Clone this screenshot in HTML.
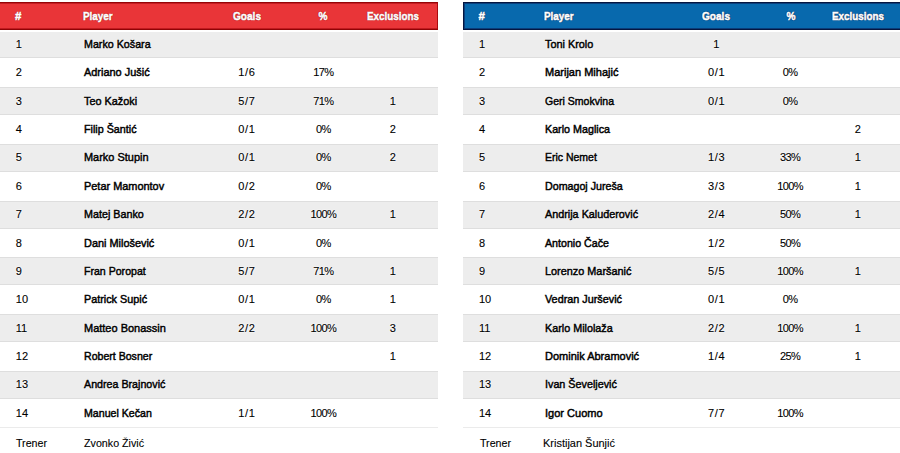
<!DOCTYPE html>
<html><head><meta charset="utf-8"><style>
*{margin:0;padding:0;box-sizing:border-box}
html,body{width:900px;height:453px;overflow:hidden;background:#fff}
body{font-family:"Liberation Sans",sans-serif;color:#000;position:relative}
.t{position:absolute;top:0;height:453px}
.s{position:absolute;left:0;right:0;background:#ededed}
.ln{position:absolute;left:0;right:0;height:1px;background:#dedede}
.ln.l2{background:#ebebeb}
.hd{position:absolute;left:0;right:0;top:2px;height:28px}
.red{background:#e93538;border-top:1px solid #960406;border-bottom:1px solid #8f0305;border-right:1px solid #a80a0e;box-shadow:inset 0 1px 0 #c41d22,inset 0 -1px 0 #c01a1f}
.blue{right:-3px;background:#0869ad;border:1px solid #051640;border-right:0;box-shadow:inset 0 1px 0 #0a3f7c,inset 0 -1px 0 #0a3c78,inset 1px 0 0 #0a3f7c}
.red .h{text-shadow:0 0 1px #8a0005,0 0 1px #8a0005,0 0 1px #8a0005}
.blue .h{text-shadow:0 0 1px #001445,0 0 1px #001445,0 0 1px #001445}
.h{position:absolute;top:0;line-height:26px;font-weight:bold;font-size:11.5px;color:#fff;white-space:nowrap;-webkit-text-stroke:.5px #fff;transform-origin:0 50%;transform:scaleX(.86)}
.h.c{transform-origin:50% 50%;transform:translateX(-50%) scaleX(.88)}
.h.c.ex{transform:translateX(-50%) scaleX(.855)}
.c{transform:translateX(-50%)}
.r{position:absolute;left:0;right:0;height:28px}
.r span{position:absolute;top:0;line-height:29px;white-space:nowrap;text-shadow:0 0 2px #fff,0 0 2px #fff}
.n{font-size:11px;-webkit-text-stroke:.1px #000}
.nm{font-size:11px;-webkit-text-stroke:.45px #000;transform-origin:0 50%;transform:scaleX(.98)}
.co{transform-origin:0 50%;transform:scaleX(.97)}
.gl{letter-spacing:.7px;text-indent:.7px}
.pc{letter-spacing:-.6px}
</style></head>
<body>
<div class="t" style="left:0px;width:438px">
<i class="s" style="top:32px;height:25px"></i>
<i class="ln" style="top:57px"></i>
<i class="ln" style="top:87px"></i>
<i class="s" style="top:88px;height:26px"></i>
<i class="ln" style="top:114px"></i>
<i class="ln" style="top:144px"></i>
<i class="s" style="top:145px;height:26px"></i>
<i class="ln" style="top:171px"></i>
<i class="ln" style="top:201px"></i>
<i class="s" style="top:202px;height:26px"></i>
<i class="ln" style="top:228px"></i>
<i class="ln" style="top:257px"></i>
<i class="s" style="top:258px;height:26px"></i>
<i class="ln" style="top:284px"></i>
<i class="ln" style="top:314px"></i>
<i class="s" style="top:315px;height:26px"></i>
<i class="ln" style="top:341px"></i>
<i class="ln" style="top:371px"></i>
<i class="s" style="top:372px;height:26px"></i>
<i class="ln" style="top:398px"></i>
<i class="ln l2" style="top:427px"></i>
<div class="hd red"><span class="h" style="left:15px;transform:none">#</span><span class="h" style="left:83px">Player</span><span class="h c" style="left:246.5px">Goals</span><span class="h c" style="left:323.4px">%</span><span class="h c ex" style="left:393.2px">Exclusions</span></div>
<div class="r" style="top:30.00px"><span class="n" style="left:15.8px">1</span><span class="nm" style="left:83.9px;transform:scaleX(0.9731)">Marko Košara</span></div>
<div class="r" style="top:58.37px"><span class="n" style="left:15.8px">2</span><span class="nm" style="left:83.9px;transform:scaleX(0.9937)">Adriano Jušić</span><span class="n c gl" style="left:246.5px">1/6</span><span class="n c pc" style="left:323.4px">17%</span></div>
<div class="r" style="top:86.74px"><span class="n" style="left:15.8px">3</span><span class="nm" style="left:83.9px;transform:scaleX(0.9878)">Teo Kažoki</span><span class="n c gl" style="left:246.5px">5/7</span><span class="n c pc" style="left:323.4px">71%</span><span class="n c" style="left:392.7px">1</span></div>
<div class="r" style="top:115.11px"><span class="n" style="left:15.8px">4</span><span class="nm" style="left:83.9px;transform:scaleX(0.9761)">Filip Šantić</span><span class="n c gl" style="left:246.5px">0/1</span><span class="n c pc" style="left:323.4px">0%</span><span class="n c" style="left:392.7px">2</span></div>
<div class="r" style="top:143.48px"><span class="n" style="left:15.8px">5</span><span class="nm" style="left:83.9px;transform:scaleX(0.9957)">Marko Stupin</span><span class="n c gl" style="left:246.5px">0/1</span><span class="n c pc" style="left:323.4px">0%</span><span class="n c" style="left:392.7px">2</span></div>
<div class="r" style="top:171.85px"><span class="n" style="left:15.8px">6</span><span class="nm" style="left:83.9px;transform:scaleX(0.9927)">Petar Mamontov</span><span class="n c gl" style="left:246.5px">0/2</span><span class="n c pc" style="left:323.4px">0%</span></div>
<div class="r" style="top:200.22px"><span class="n" style="left:15.8px">7</span><span class="nm" style="left:83.9px;transform:scaleX(0.9780)">Matej Banko</span><span class="n c gl" style="left:246.5px">2/2</span><span class="n c pc" style="left:323.4px">100%</span><span class="n c" style="left:392.7px">1</span></div>
<div class="r" style="top:228.59px"><span class="n" style="left:15.8px">8</span><span class="nm" style="left:83.9px;transform:scaleX(0.9918)">Dani Milošević</span><span class="n c gl" style="left:246.5px">0/1</span><span class="n c pc" style="left:323.4px">0%</span></div>
<div class="r" style="top:256.96px"><span class="n" style="left:15.8px">9</span><span class="nm" style="left:83.9px;transform:scaleX(0.9614)">Fran Poropat</span><span class="n c gl" style="left:246.5px">5/7</span><span class="n c pc" style="left:323.4px">71%</span><span class="n c" style="left:392.7px">1</span></div>
<div class="r" style="top:285.33px"><span class="n" style="left:15.8px">10</span><span class="nm" style="left:83.9px;transform:scaleX(0.9820)">Patrick Supić</span><span class="n c gl" style="left:246.5px">0/1</span><span class="n c pc" style="left:323.4px">0%</span><span class="n c" style="left:392.7px">1</span></div>
<div class="r" style="top:313.70px"><span class="n" style="left:15.8px">11</span><span class="nm" style="left:83.9px;transform:scaleX(0.9986)">Matteo Bonassin</span><span class="n c gl" style="left:246.5px">2/2</span><span class="n c pc" style="left:323.4px">100%</span><span class="n c" style="left:392.7px">3</span></div>
<div class="r" style="top:342.07px"><span class="n" style="left:15.8px">12</span><span class="nm" style="left:83.9px;transform:scaleX(0.9614)">Robert Bosner</span><span class="n c" style="left:392.7px">1</span></div>
<div class="r" style="top:370.44px"><span class="n" style="left:15.8px">13</span><span class="nm" style="left:83.9px;transform:scaleX(0.9712)">Andrea Brajnović</span></div>
<div class="r" style="top:398.81px"><span class="n" style="left:15.8px">14</span><span class="nm" style="left:83.9px;transform:scaleX(0.9643)">Manuel Kečan</span><span class="n c gl" style="left:246.5px">1/1</span><span class="n c pc" style="left:323.4px">100%</span></div>
<div class="r" style="top:429.40px"><span class="n co" style="left:16.0px">Trener</span><span class="n co" style="left:84px;transform:scaleX(0.9729)">Zvonko Živić</span></div>
</div>
<div class="t" style="left:463px;width:437px">
<i class="s" style="top:32px;height:25px"></i>
<i class="ln" style="top:57px"></i>
<i class="ln" style="top:87px"></i>
<i class="s" style="top:88px;height:26px"></i>
<i class="ln" style="top:114px"></i>
<i class="ln" style="top:144px"></i>
<i class="s" style="top:145px;height:26px"></i>
<i class="ln" style="top:171px"></i>
<i class="ln" style="top:201px"></i>
<i class="s" style="top:202px;height:26px"></i>
<i class="ln" style="top:228px"></i>
<i class="ln" style="top:257px"></i>
<i class="s" style="top:258px;height:26px"></i>
<i class="ln" style="top:284px"></i>
<i class="ln" style="top:314px"></i>
<i class="s" style="top:315px;height:26px"></i>
<i class="ln" style="top:341px"></i>
<i class="ln" style="top:371px"></i>
<i class="s" style="top:372px;height:26px"></i>
<i class="ln" style="top:398px"></i>
<i class="ln l2" style="top:427px"></i>
<div class="hd blue"><span class="h" style="left:14.5px;transform:none">#</span><span class="h" style="left:79.9px">Player</span><span class="h c" style="left:251.9px">Goals</span><span class="h c" style="left:327.2px">%</span><span class="h c ex" style="left:393.8px">Exclusions</span></div>
<div class="r" style="top:30.00px"><span class="n" style="left:16px">1</span><span class="nm" style="left:81.7px;transform:scaleX(0.9878)">Toni Krolo</span><span class="n c gl" style="left:253.4px">1</span></div>
<div class="r" style="top:58.37px"><span class="n" style="left:16px">2</span><span class="nm" style="left:81.7px;transform:scaleX(1.0006)">Marijan Mihajić</span><span class="n c gl" style="left:253.4px">0/1</span><span class="n c pc" style="left:327.2px">0%</span></div>
<div class="r" style="top:86.74px"><span class="n" style="left:16px">3</span><span class="nm" style="left:81.7px;transform:scaleX(0.9575)">Geri Smokvina</span><span class="n c gl" style="left:253.4px">0/1</span><span class="n c pc" style="left:327.2px">0%</span></div>
<div class="r" style="top:115.11px"><span class="n" style="left:16px">4</span><span class="nm" style="left:81.7px;transform:scaleX(0.9751)">Karlo Maglica</span><span class="n c" style="left:394.8px">2</span></div>
<div class="r" style="top:143.48px"><span class="n" style="left:16px">5</span><span class="nm" style="left:81.7px;transform:scaleX(0.9526)">Eric Nemet</span><span class="n c gl" style="left:253.4px">1/3</span><span class="n c pc" style="left:327.2px">33%</span><span class="n c" style="left:394.8px">1</span></div>
<div class="r" style="top:171.85px"><span class="n" style="left:16px">6</span><span class="nm" style="left:81.7px;transform:scaleX(0.9702)">Domagoj Jureša</span><span class="n c gl" style="left:253.4px">3/3</span><span class="n c pc" style="left:327.2px">100%</span><span class="n c" style="left:394.8px">1</span></div>
<div class="r" style="top:200.22px"><span class="n" style="left:16px">7</span><span class="nm" style="left:81.7px;transform:scaleX(0.9820)">Andrija Kaluđerović</span><span class="n c gl" style="left:253.4px">2/4</span><span class="n c pc" style="left:327.2px">50%</span><span class="n c" style="left:394.8px">1</span></div>
<div class="r" style="top:228.59px"><span class="n" style="left:16px">8</span><span class="nm" style="left:81.7px;transform:scaleX(0.9682)">Antonio Čače</span><span class="n c gl" style="left:253.4px">1/2</span><span class="n c pc" style="left:327.2px">50%</span></div>
<div class="r" style="top:256.96px"><span class="n" style="left:16px">9</span><span class="nm" style="left:81.7px;transform:scaleX(0.9878)">Lorenzo Maršanić</span><span class="n c gl" style="left:253.4px">5/5</span><span class="n c pc" style="left:327.2px">100%</span><span class="n c" style="left:394.8px">1</span></div>
<div class="r" style="top:285.33px"><span class="n" style="left:16px">10</span><span class="nm" style="left:81.7px;transform:scaleX(0.9839)">Vedran Juršević</span><span class="n c gl" style="left:253.4px">0/1</span><span class="n c pc" style="left:327.2px">0%</span></div>
<div class="r" style="top:313.70px"><span class="n" style="left:16px">11</span><span class="nm" style="left:81.7px;transform:scaleX(0.9810)">Karlo Milolaža</span><span class="n c gl" style="left:253.4px">2/2</span><span class="n c pc" style="left:327.2px">100%</span><span class="n c" style="left:394.8px">1</span></div>
<div class="r" style="top:342.07px"><span class="n" style="left:16px">12</span><span class="nm" style="left:81.7px;transform:scaleX(0.9996)">Dominik Abramović</span><span class="n c gl" style="left:253.4px">1/4</span><span class="n c pc" style="left:327.2px">25%</span><span class="n c" style="left:394.8px">1</span></div>
<div class="r" style="top:370.44px"><span class="n" style="left:16px">13</span><span class="nm" style="left:81.7px;transform:scaleX(0.9790)">Ivan Ševeljević</span></div>
<div class="r" style="top:398.81px"><span class="n" style="left:16px">14</span><span class="nm" style="left:81.7px;transform:scaleX(1.0016)">Igor Cuomo</span><span class="n c gl" style="left:253.4px">7/7</span><span class="n c pc" style="left:327.2px">100%</span></div>
<div class="r" style="top:429.40px"><span class="n co" style="left:16.5px">Trener</span><span class="n co" style="left:80.4px;transform:scaleX(0.9978)">Kristijan Šunjić</span></div>
</div>
</body></html>
